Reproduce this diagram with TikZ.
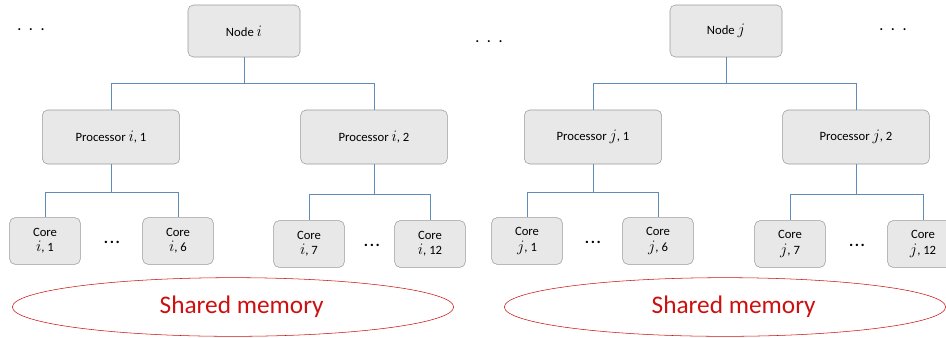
\documentclass[tikz,border=0pt]{standalone}
\usepackage{fontspec}
\setmainfont{Carlito}
\usetikzlibrary{shapes.geometric}

\definecolor{linkblue}{RGB}{96,140,186}
\definecolor{memred}{RGB}{204,16,16}
\newcommand{\ix}[1]{{\fontsize{11.5}{11.5}\selectfont$#1$}}

\begin{document}
\begin{tikzpicture}[x=0.75pt,y=-0.75pt,
    box/.style={draw=black!40,fill=black!9,rounded corners=4pt,align=center,
        inner sep=1pt,font=\fontsize{9.5}{11.5}\selectfont},
    nodebox/.style={box,minimum width=84pt,minimum height=39pt},
    procbox/.style={box,minimum width=103pt,minimum height=40.5pt},
    corebox/.style={box,minimum width=53pt,minimum height=35pt},
    link/.style={draw=linkblue,semithick},
    memory/.style={ellipse,draw=memred,text=memred,minimum width=331pt,
        minimum height=44pt,font=\fontsize{19}{22}\selectfont},
    gap/.style={font=\fontsize{12}{14}\selectfont\bfseries,inner sep=0pt},
    more/.style={font=\fontsize{10}{12}\selectfont\bfseries,inner sep=0pt}]
    \clip (0,0) rectangle (946,337);

    % nodes
    \node[nodebox] (ni) at (244,31) {Node \ix{i}};
    \node[nodebox] (nj) at (726,31) {Node \ix{j}};

    % processors
    \node[procbox] (pi1) at (111,137) {Processor \ix{i}, 1};
    \node[procbox,minimum width=110pt] (pi2) at (374,137) {Processor \ix{i}, 2};
    \node[procbox] (pj1) at (593,137) {Processor \ix{j}, 1};
    \node[procbox,minimum width=110pt] (pj2) at (856,137) {Processor \ix{j}, 2};

    % cores
    \node[corebox] (ci1) at (45,241) {Core\\\ix{i}, 1};
    \node[corebox] (ci6) at (178,241) {Core\\\ix{i}, 6};
    \node[corebox] (ci7) at (309,244) {Core\\\ix{i}, 7};
    \node[corebox] (ci12) at (430,244) {Core\\\ix{i}, 12};
    \node[corebox] (cj1) at (527,241) {Core\\\ix{j}, 1};
    \node[corebox] (cj6) at (658,241) {Core\\\ix{j}, 6};
    \node[corebox] (cj7) at (790,244) {Core\\\ix{j}, 7};
    \node[corebox] (cj12) at (923,244) {Core\\\ix{j}, 12};

    % dots
    \node[more] (dl) at (31,30) {.\hspace{6pt}.\hspace{6pt}.};
    \node[more] (dm) at (489,42) {.\hspace{6pt}.\hspace{6pt}.};
    \node[more] (dr) at (893,30) {.\hspace{6pt}.\hspace{6pt}.};
    \node[gap] (gi1) at (112,242) {.\hspace{1.2pt}.\hspace{1.2pt}.};
    \node[gap] (gi2) at (372,245) {.\hspace{1.2pt}.\hspace{1.2pt}.};
    \node[gap] (gj1) at (593,242) {.\hspace{1.2pt}.\hspace{1.2pt}.};
    \node[gap] (gj2) at (857,245) {.\hspace{1.2pt}.\hspace{1.2pt}.};

    % shared memory
    \node[memory] (mi) at (233,307) {\hspace*{13pt}Shared memory};
    \node[memory] (mj) at (725,307) {\hspace*{13pt}Shared memory};

    % links
    \draw[link] (ni.south) -- ++(0,26) -| (pi1.north);
    \draw[link] (ni.south) -- ++(0,26) -| (pi2.north);
    \draw[link] (nj.south) -- ++(0,26) -| (pj1.north);
    \draw[link] (nj.south) -- ++(0,26) -| (pj2.north);
    \draw[link] (pi1.south) -- ++(0,28) -| (ci1.north);
    \draw[link] (pi1.south) -- ++(0,28) -| (ci6.north);
    \draw[link] (pi2.south) -- ++(0,30) -| (ci7.north);
    \draw[link] (pi2.south) -- ++(0,30) -| (ci12.north);
    \draw[link] (pj1.south) -- ++(0,28) -| (cj1.north);
    \draw[link] (pj1.south) -- ++(0,28) -| (cj6.north);
    \draw[link] (pj2.south) -- ++(0,30) -| (cj7.north);
    \draw[link] (pj2.south) -- ++(0,30) -| (cj12.north);
\end{tikzpicture}
\end{document}
